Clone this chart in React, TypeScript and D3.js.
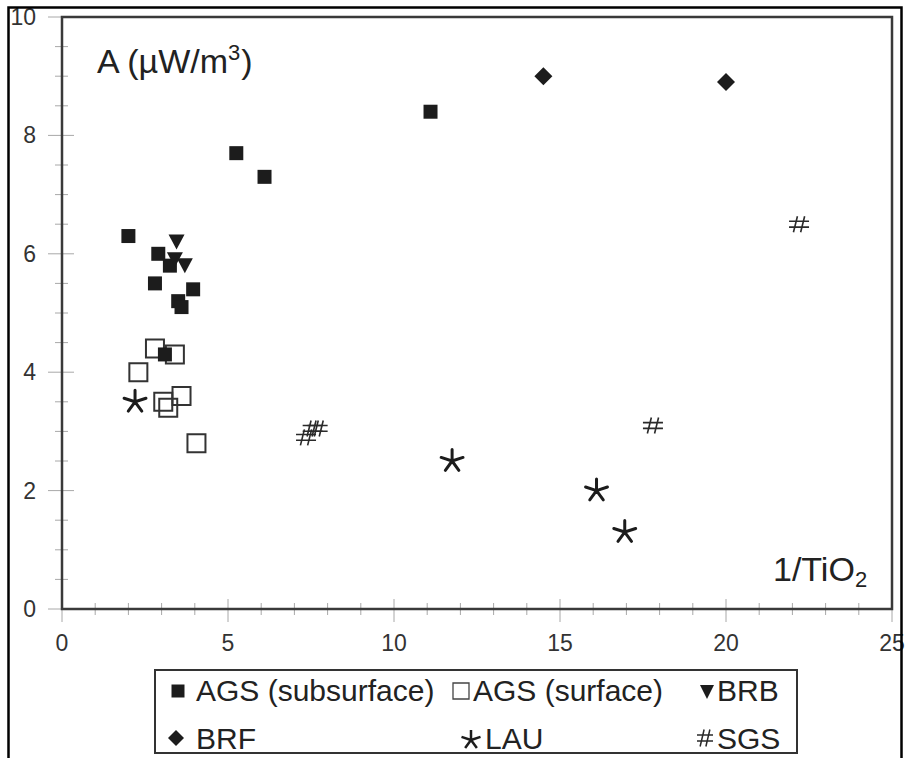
import React from "react";
import * as d3 from "d3";

// Heat production A (µW/m³) against 1/TiO2 for each rock group
const agsSubsurface = [
  { x: 2.0, y: 6.3 }, { x: 5.25, y: 7.7 }, { x: 6.1, y: 7.3 }, { x: 11.1, y: 8.4 },
  { x: 2.9, y: 6.0 }, { x: 3.25, y: 5.8 }, { x: 2.8, y: 5.5 }, { x: 3.95, y: 5.4 },
  { x: 3.5, y: 5.2 }, { x: 3.6, y: 5.1 }, { x: 3.1, y: 4.3 },
];
const agsSurface = [
  { x: 2.8, y: 4.4 }, { x: 3.4, y: 4.3 }, { x: 2.3, y: 4.0 }, { x: 3.6, y: 3.6 },
  { x: 3.05, y: 3.5 }, { x: 3.2, y: 3.4 }, { x: 4.05, y: 2.8 },
];
const brb = [{ x: 3.45, y: 6.2 }, { x: 3.4, y: 5.9 }, { x: 3.7, y: 5.8 }];
const brf = [{ x: 14.5, y: 9.0 }, { x: 20.0, y: 8.9 }];
const lau = [{ x: 2.2, y: 3.5 }, { x: 11.75, y: 2.5 }, { x: 16.1, y: 2.0 }, { x: 16.95, y: 1.3 }];
const sgs = [
  { x: 22.2, y: 6.5 }, { x: 17.8, y: 3.1 }, { x: 7.35, y: 2.9 }, { x: 7.55, y: 3.05 }, { x: 7.7, y: 3.05 },
];

const xDomain = [0, 25];
const yDomain = [0, 10];
const xMajorTicks = [0, 5, 10, 15, 20, 25];
const yMajorTicks = [0, 2, 4, 6, 8, 10];

const FONT = "'Liberation Sans', Arial, sans-serif";
const INK = "#1c1c1c";

function squarePath(s: number) {
  const h = s / 2;
  return `M${-h},${-h}H${h}V${h}H${-h}Z`;
}
function trianglePath(w: number, h: number) {
  return `M${-w / 2},${-h / 2}L${w / 2},${-h / 2}L0,${h / 2}Z`;
}
function diamondPath(r: number) {
  return `M0,${-r}L${r},0L0,${r}L${-r},0Z`;
}
function asteriskPath(r: number) {
  const p = d3.path();
  for (let i = 0; i < 5; i++) {
    const a = -Math.PI / 2 + (i * 2 * Math.PI) / 5;
    p.moveTo(0, 0);
    p.lineTo(r * Math.cos(a), r * Math.sin(a));
  }
  return p.toString();
}
function hashPath(w: number, h: number) {
  const p = d3.path();
  const vx = w * 0.18;
  const sl = 2;
  p.moveTo(-vx + sl, -h / 2); p.lineTo(-vx - sl, h / 2);
  p.moveTo(vx + sl, -h / 2); p.lineTo(vx - sl, h / 2);
  p.moveTo(-w / 2, -h * 0.18); p.lineTo(w / 2, -h * 0.18);
  p.moveTo(-w / 2, h * 0.18); p.lineTo(w / 2, h * 0.18);
  return p.toString();
}

export default function App() {
  const W = 905, H = 758;
  const x = d3.scaleLinear().domain(xDomain).range([62, 892]);
  const y = d3.scaleLinear().domain(yDomain).range([609, 17]);
  const xMinor = d3.range(xDomain[0], xDomain[1] + 1, 1);
  const yMinor = d3.range(yDomain[0], yDomain[1] + 0.01, 0.5);

  const filledSq = squarePath(14);
  const openSq = squarePath(18);
  const tri = trianglePath(16, 15);
  const dia = diamondPath(9);
  const ast = asteriskPath(11.5);
  const hash = hashPath(20, 16);

  const at = (d: { x: number; y: number }) => `translate(${x(d.x)},${y(d.y)})`;

  return (
    <div style={{ position: "absolute", left: 0, top: 0 }}>
      <svg width={W} height={H} style={{ display: "block", background: "#fff" }} fontFamily={FONT}>
        {/* tick marks */}
        <g stroke="#a8a8a8" strokeWidth={1}>
          {yMinor.map((v) => {
            const major = yMajorTicks.includes(v);
            return (
              <line key={"ym" + v} x1={x(0) - (major ? 14 : 7)} x2={x(0) + (major ? 12 : 6)} y1={y(v)} y2={y(v)} />
            );
          })}
          {xMinor.map((v) => {
            const major = xMajorTicks.includes(v);
            return (
              <line key={"xm" + v} x1={x(v)} x2={x(v)} y1={y(0) - (major ? 10 : 6)} y2={y(0) + (major ? 13 : 6)} />
            );
          })}
        </g>

        {/* plot frame */}
        <rect x={x(0)} y={y(10)} width={x(25) - x(0)} height={y(0) - y(10)} fill="none" stroke="#3a3a3a" strokeWidth={2.5} />

        {/* tick labels */}
        <g fontSize={23} fill="#333">
          {yMajorTicks.map((v) => (
            <text key={"yl" + v} x={36} y={y(v)} dy="0.35em" textAnchor="end">{v}</text>
          ))}
          {xMajorTicks.map((v) => (
            <text key={"xl" + v} x={x(v)} y={651} textAnchor="middle">{v}</text>
          ))}
        </g>

        {/* axis titles */}
        <text x={97} y={73} fontSize={34} fill="#222">
          A (µW/m<tspan dy={-13} fontSize={22}>3</tspan><tspan dy={13} dx={1}>)</tspan>
        </text>
        <text x={773} y={581} fontSize={34} fill="#222">
          1/TiO<tspan dy={6} fontSize={22}>2</tspan>
        </text>

        {/* data */}
        <g>
          {agsSurface.map((d, i) => (
            <path key={"as" + i} d={openSq} transform={at(d)} fill="none" stroke="#333" strokeWidth={2} />
          ))}
          {agsSubsurface.map((d, i) => (
            <path key={"ab" + i} d={filledSq} transform={at(d)} fill={INK} />
          ))}
          {brb.map((d, i) => (
            <path key={"bb" + i} d={tri} transform={at(d)} fill={INK} />
          ))}
          {brf.map((d, i) => (
            <path key={"bf" + i} d={dia} transform={at(d)} fill={INK} />
          ))}
          {lau.map((d, i) => (
            <path key={"la" + i} d={ast} transform={at(d)} fill="none" stroke={INK} strokeWidth={3} strokeLinecap="round" />
          ))}
          {sgs.map((d, i) => (
            <path key={"sg" + i} d={hash} transform={at(d)} fill="none" stroke="#2a2a2a" strokeWidth={1.6} />
          ))}
        </g>

        {/* legend */}
        <g>
          <rect x={155} y={670} width={642} height={83} fill="#fff" stroke="#333" strokeWidth={2} />
          <g fontSize={30} fill="#222">
            <path d={squarePath(13)} transform="translate(178,691)" fill={INK} />
            <text x={196} y={701}>AGS (subsurface)</text>
            <path d={squarePath(16)} transform="translate(461,691)" fill="none" stroke="#444" strokeWidth={1.3} />
            <text x={473} y={701}>AGS (surface)</text>
            <path d={trianglePath(14, 14)} transform="translate(707,692)" fill={INK} />
            <text x={717} y={701}>BRB</text>

            <path d={diamondPath(8)} transform="translate(176,738)" fill={INK} />
            <text x={196} y={749}>BRF</text>
            <path d={asteriskPath(10)} transform="translate(471,740)" fill="none" stroke={INK} strokeWidth={2.5} />
            <text x={485} y={749}>LAU</text>
            <path d={hashPath(16, 17)} transform="translate(705,738)" fill="none" stroke="#2a2a2a" strokeWidth={1.5} />
            <text x={717} y={749}>SGS</text>
          </g>
        </g>

        {/* outer border */}
        <rect x={8.5} y={7.5} width={893} height={770} fill="none" stroke="#000" strokeWidth={2.5} />
      </svg>
    </div>
  );
}
